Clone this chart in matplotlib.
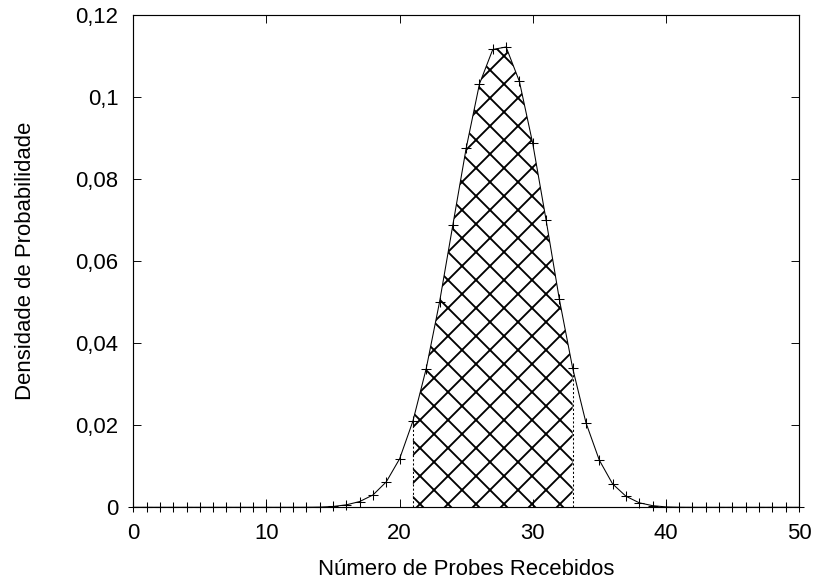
import matplotlib
matplotlib.use("Agg")
import matplotlib.pyplot as plt
from matplotlib.ticker import FuncFormatter
import numpy as np

# Data
x_vals = list(range(0, 51))
density = [0, 0, 0, 0, 0, 0, 0, 0, 0, 0,
           0, 0, 0.000005, 0.00001, 0.00005, 0.0002, 0.0006, 0.0014, 0.0030, 0.0062,
           0.0118, 0.0210, 0.0338, 0.0500, 0.0688, 0.0875, 0.1032, 0.1116, 0.1122, 0.1038,
           0.0887, 0.0701, 0.0507, 0.0339, 0.0206, 0.0115, 0.0057, 0.0027, 0.0011, 0.0004,
           0.0001, 0.00002, 0, 0, 0, 0, 0, 0, 0, 0, 0]
shade_start = 21
shade_end = 33
x_ticks = [0, 10, 20, 30, 40, 50]
y_ticks = [0, 0.02, 0.04, 0.06, 0.08, 0.10, 0.12]
x_label = "Número de Probes Recebidos"
y_label = "Densidade de Probabilidade"

DPI = 84
FS = 19.0
plt.rcParams['font.family'] = ['Liberation Sans', 'DejaVu Sans']
plt.rcParams['hatch.linewidth'] = 1.6

fig = plt.figure(figsize=(815 / DPI, 581 / DPI), dpi=DPI)
ax = fig.add_axes([133.3 / 815, 1 - 507.3 / 581, (799 - 133.3) / 815, (507.3 - 15) / 581])

x = np.array(x_vals)
y = np.array(density)

mask = (x >= shade_start) & (x <= shade_end)
ax.fill_between(x[mask], 0, y[mask], facecolor='none', edgecolor='black',
                hatch='x', linewidth=0, zorder=2)
for xv in (shade_start, shade_end):
    ax.plot([xv, xv], [0, y[x == xv][0]], color='black', lw=0.9,
            ls=(0, (2, 2)), zorder=3)

ax.plot(x, y, color='black', lw=0.9, marker='+', markersize=8,
        markeredgewidth=0.9, zorder=4, clip_on=False)

ax.set_xlim(0, 50)
ax.set_ylim(0, 0.12)
ax.set_xticks(x_ticks)
ax.set_yticks(y_ticks)


def yfmt(v, pos):
    s = f"{v:g}"
    return s.replace('.', ',')


ax.yaxis.set_major_formatter(FuncFormatter(yfmt))
ax.tick_params(direction='in', length=6.5, width=0.8, top=True, right=True,
               labelsize=FS)
ax.tick_params(axis='y', pad=12.7)
ax.tick_params(axis='x', pad=13.5)
for sp in ax.spines.values():
    sp.set_linewidth(1.0)

ax.set_xlabel(x_label, fontsize=FS, labelpad=13)
ax.set_ylabel(y_label, fontsize=FS, labelpad=34)

fig.savefig("out.png", dpi=DPI)
